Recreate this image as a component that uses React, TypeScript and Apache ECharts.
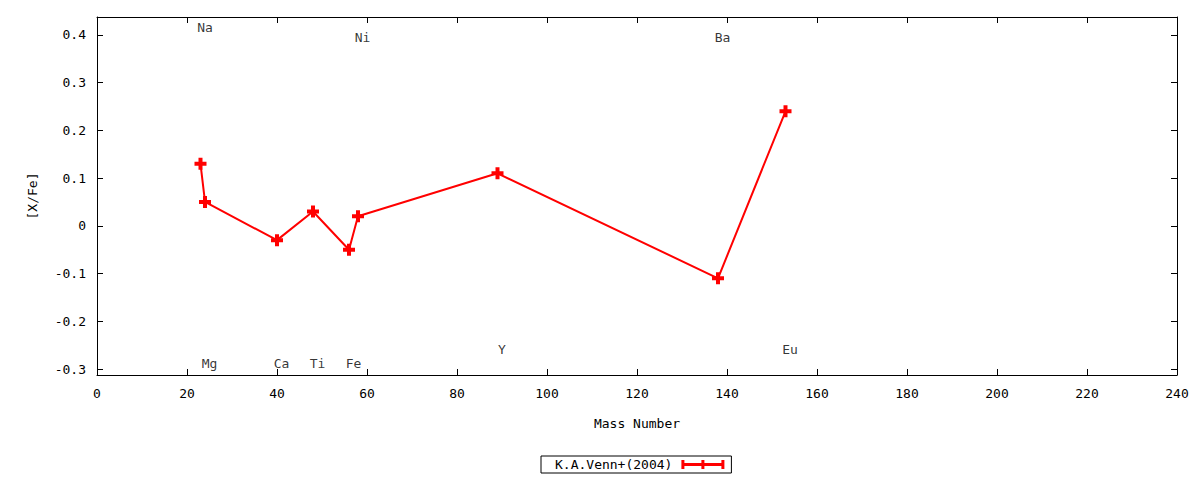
import React, { useEffect, useRef } from "react";
import * as echarts from "echarts";

const seriesName = "K.A.Venn+(2004)";
const elements = ["Na", "Mg", "Ca", "Ti", "Fe", "Ni", "Y", "Ba", "Eu"];
const massNumbers = [23, 24, 40, 48, 56, 58, 89, 138, 153];
const abundances = [0.13, 0.05, -0.03, 0.03, -0.05, 0.02, 0.11, -0.11, 0.24];

const labelX = [24, 25, 41, 49, 57, 59, 90, 139, 154];
const labelY = [0.415, -0.289, -0.289, -0.289, -0.289, 0.395, -0.259, 0.395, -0.259];

const xTicks = [0, 20, 40, 60, 80, 100, 120, 140, 160, 180, 200, 220, 240];
const yTicks = [-0.3, -0.2, -0.1, 0, 0.1, 0.2, 0.3, 0.4];

const FONT = "DejaVu Sans Mono";
const PLUS = "path://M4,0H8V4H12V8H8V12H4V8H0V4H4Z";
const LEGEND_ICON = "path://M0,0H3V3H20V0H23V3H40V0H43V9H40V6H23V9H20V6H3V9H0Z";

export default function App() {
  const ref = useRef<HTMLDivElement>(null);
  useEffect(() => {
    if (!ref.current) return;
    const chart = echarts.init(ref.current, undefined, { renderer: "svg" });
    const axisCommon = {
      axisLine: { show: true, onZero: false, lineStyle: { color: "#000", width: 1 } },
      axisTick: { show: true, inside: true, length: 6, lineStyle: { color: "#000" } },
      splitLine: { show: false },
    };
    chart.setOption({
      animation: false,
      backgroundColor: "#fff",
      textStyle: { fontFamily: FONT },
      grid: { left: 97, right: 23, top: 17, bottom: 105, containLabel: false },
      legend: {
        data: [{ name: seriesName, icon: LEGEND_ICON }],
        left: 541,
        top: 456,
        align: "right",
        itemWidth: 43,
        itemHeight: 9,
        padding: [2, 7, 2, 14],
        borderColor: "#000",
        borderWidth: 1,
        borderRadius: 0,
        textStyle: { fontFamily: FONT, fontSize: 13, color: "#000", padding: [0, 4, 0, 0] },
      },
      xAxis: [
        {
          type: "value",
          min: 0,
          max: 240,
          interval: 20,
          position: "bottom",
          name: "Mass Number",
          nameLocation: "middle",
          nameGap: 42,
          nameTextStyle: { fontFamily: FONT, fontSize: 13, color: "#000" },
          ...axisCommon,
          axisTick: { ...axisCommon.axisTick, customValues: xTicks },
          axisLabel: { customValues: xTicks, fontFamily: FONT, fontSize: 13, color: "#000", margin: 12 },
        },
        {
          type: "value",
          min: 0,
          max: 240,
          interval: 20,
          position: "top",
          ...axisCommon,
          axisTick: { ...axisCommon.axisTick, customValues: xTicks },
          axisLabel: { show: false },
        },
      ],
      yAxis: [
        {
          type: "value",
          min: -0.3125,
          max: 0.4375,
          position: "left",
          name: "[X/Fe]",
          nameLocation: "middle",
          nameGap: 58,
          nameRotate: 90,
          nameTextStyle: { fontFamily: FONT, fontSize: 13, color: "#000" },
          ...axisCommon,
          axisTick: { ...axisCommon.axisTick, customValues: yTicks },
          axisLabel: { customValues: yTicks, fontFamily: FONT, fontSize: 13, color: "#000", margin: 11 },
        },
        {
          type: "value",
          min: -0.3125,
          max: 0.4375,
          position: "right",
          ...axisCommon,
          axisTick: { ...axisCommon.axisTick, customValues: yTicks },
          axisLabel: { show: false },
        },
      ],
      series: [
        {
          name: seriesName,
          type: "line",
          xAxisIndex: 0,
          yAxisIndex: 0,
          data: massNumbers.map((m, i) => [m, abundances[i]]),
          symbol: PLUS,
          symbolSize: 12,
          showSymbol: true,
          itemStyle: { color: "#ff0000" },
          lineStyle: { color: "#ff0000", width: 2 },
          silent: true,
          z: 3,
        },
        {
          name: "labels",
          type: "scatter",
          xAxisIndex: 0,
          yAxisIndex: 0,
          symbolSize: 0,
          silent: true,
          data: elements.map((e, i) => ({ name: e, value: [labelX[i], labelY[i]] })),
          label: {
            show: true,
            position: "inside",
            formatter: (p: any) => p.name,
            fontFamily: FONT,
            fontSize: 13,
            color: "#000",
          },
          z: 4,
        },
      ],
    });
    return () => chart.dispose();
  }, []);
  return (
    <div
      ref={ref}
      style={{ position: "absolute", left: 0, top: 0, width: 1200, height: 480, background: "#fff" }}
    />
  );
}
